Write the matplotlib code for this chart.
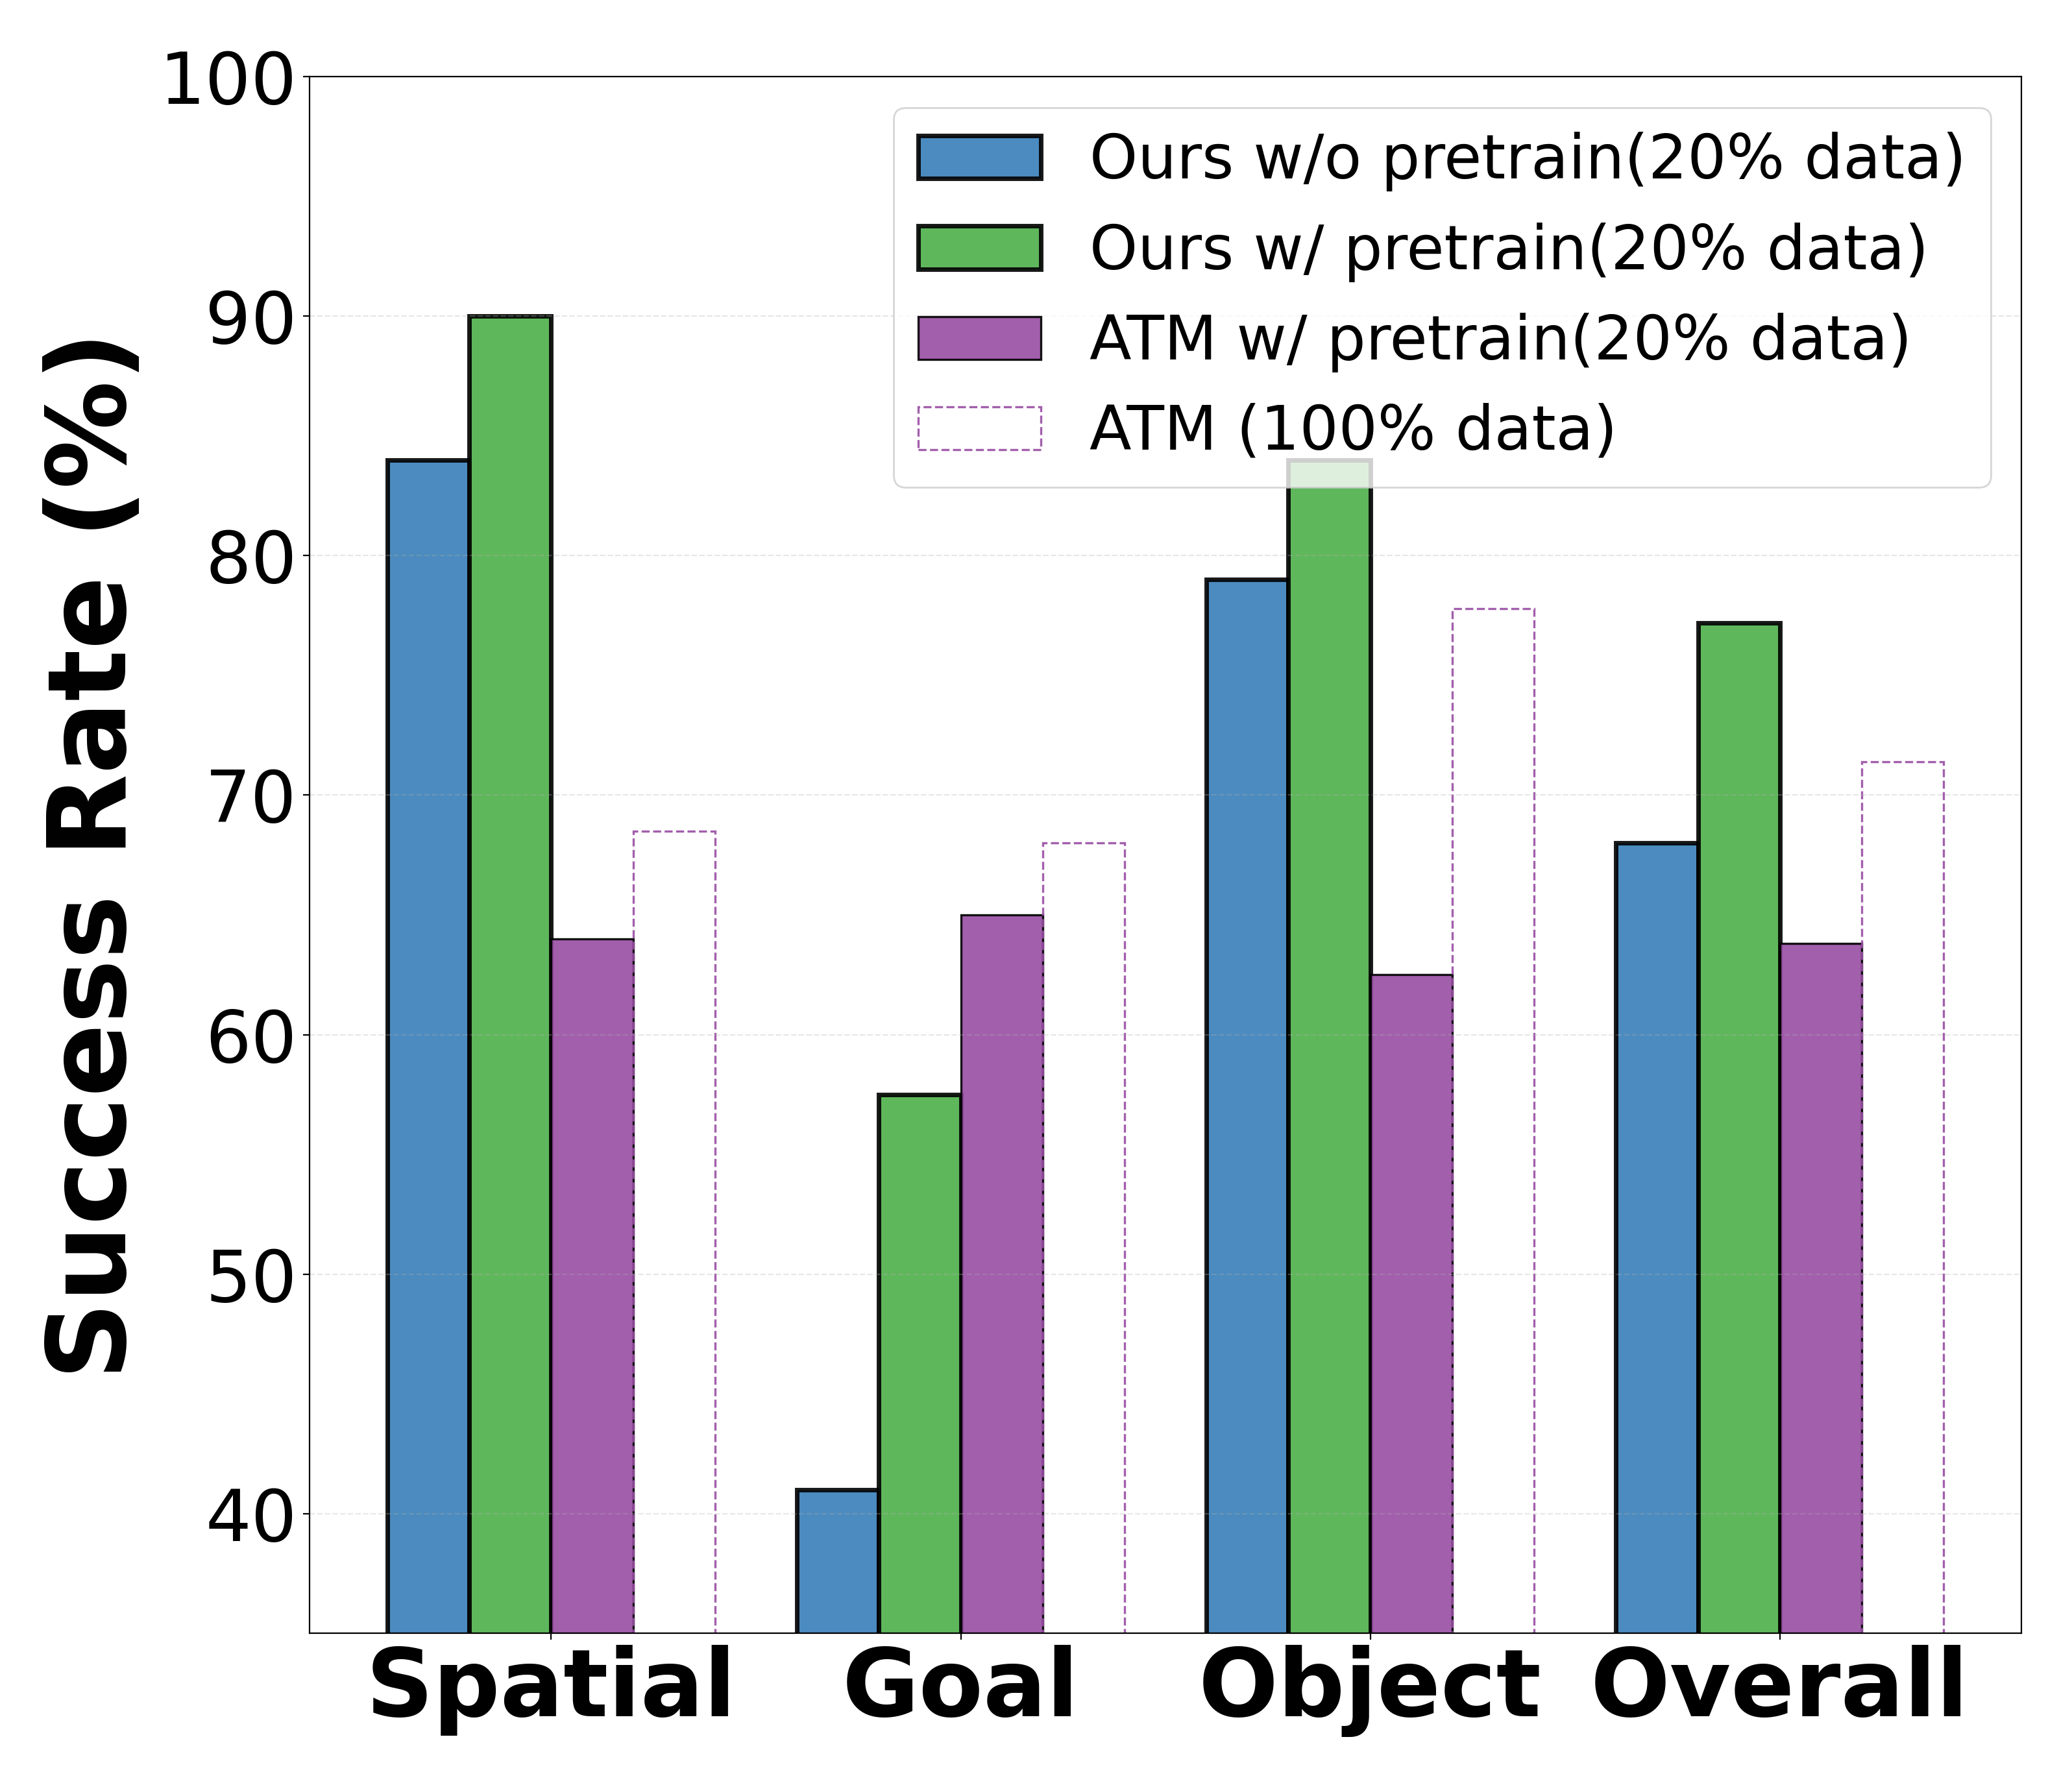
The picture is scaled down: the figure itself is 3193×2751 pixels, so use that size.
import matplotlib
matplotlib.use("Agg")
import matplotlib.pyplot as plt
import numpy as np

categories = ["Spatial", "Goal", "Object", "Overall"]
ours_wo_pretrain = [84.0, 41.0, 79.0, 68.0]
ours_w_pretrain = [90.0, 57.5, 84.0, 77.2]
atm_w_pretrain = [64.0, 65.0, 62.5, 63.8]
atm_full = [68.5, 68.0, 77.8, 71.4]
labels = ["Ours w/o pretrain(20% data)", "Ours w/ pretrain(20% data)",
          "ATM w/ pretrain(20% data)", "ATM (100% data)"]
yticks = [40, 50, 60, 70, 80, 90, 100]

fig = plt.figure(figsize=(3193 / 200, 2751 / 200), dpi=200)
ax = fig.add_axes([0.1494, 0.085, 0.9756 - 0.1494, 0.957 - 0.085])

x = np.arange(len(categories))
w = 0.2
ax.bar(x - 1.5 * w, ours_wo_pretrain, w, color="#377eb8", alpha=0.9,
       edgecolor="black", linewidth=2.5, label=labels[0])
ax.bar(x - 0.5 * w, ours_w_pretrain, w, color="#4daf4a", alpha=0.9,
       edgecolor="black", linewidth=2.5, label=labels[1])
ax.bar(x + 0.5 * w, atm_w_pretrain, w, color="#984ea3", alpha=0.9,
       edgecolor="black", linewidth=1.2, label=labels[2])
ax.bar(x + 1.5 * w, atm_full, w, facecolor="none", edgecolor="#984ea3",
       alpha=0.9, linestyle="--", linewidth=1.2, label=labels[3])

ax.set_ylim(35, 100)
ax.set_yticks(yticks)
ax.set_xticks(x)
ax.set_xticklabels(categories, fontsize=52, fontweight="bold")
ax.tick_params(axis="y", labelsize=40)
ax.tick_params(axis="x", pad=3)
ax.set_ylabel("Success Rate (%)", fontsize=60, fontweight="bold", labelpad=6)
ax.grid(axis="y", linestyle="--", alpha=0.3)

ax.legend(loc="upper right", fontsize=34)

fig.savefig("out.png", dpi=200)
